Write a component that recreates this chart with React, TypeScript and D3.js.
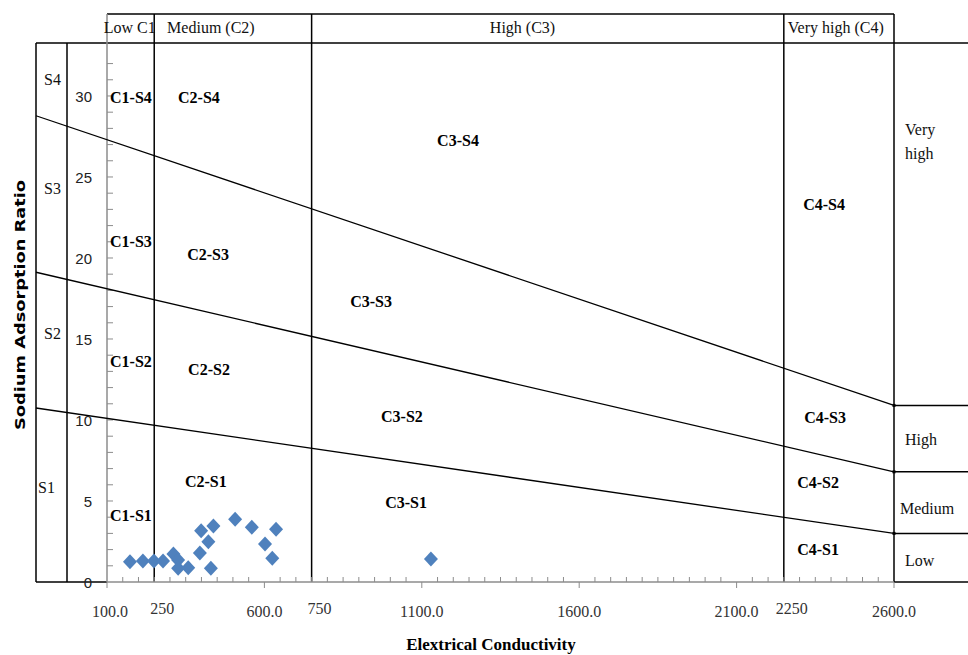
import React from 'react';
import * as d3 from 'd3';

// USSL salinity diagram — EC vs SAR
const ecValues = [173, 214, 249, 278, 311, 326, 326, 358, 395, 399, 422, 438, 430, 507, 560, 602, 625, 637, 1129];
const sarValues = [1.25, 1.3, 1.3, 1.3, 1.73, 1.36, 0.85, 0.88, 1.79, 3.17, 2.49, 3.46, 0.85, 3.87, 3.38, 2.35, 1.46, 3.25, 1.42];

const ecBounds = [250, 750, 2250, 2600];
const headerLabels = ['Low C1', 'Medium (C2)', 'High (C3)', 'Very high (C4)'];
const headerCenters = [172, 430, 1420, 2415];

// SAR boundary lines: value at EC=100 and at EC=2600 (S1/S2, S2/S3, S3/S4)
const sarLineStart = [10.1, 18.1, 27.3];
const sarLineEnd = [3.0, 6.8, 10.9];

const classNames = ['C1-S4', 'C2-S4', 'C3-S4', 'C4-S4', 'C1-S3', 'C2-S3', 'C3-S3', 'C4-S3', 'C1-S2', 'C2-S2', 'C3-S2', 'C4-S2', 'C1-S1', 'C2-S1', 'C3-S1', 'C4-S1'];
const classEc = [176, 392, 1215, 2378, 176, 421, 939, 2381, 176, 424, 1037, 2359, 176, 414, 1050, 2359];
const classSar = [29.9, 29.9, 27.2, 23.3, 21.0, 20.2, 17.3, 10.1, 13.6, 13.1, 10.2, 6.1, 4.1, 6.2, 4.9, 2.0];

const sLabels = ['S4', 'S3', 'S2', 'S1'];
const sLabelSar = [30.7, 23.95, 15.0, 5.5];

const ecTickLabels = [100, 600, 1100, 1600, 2100, 2600];
const ecExtraLabels = ['250', '750', '2250'];
const yTickLabels = [0, 5, 10, 15, 20, 25, 30];

export default function App() {
  const width = 968;
  const height = 655;
  const left = 36, sCol = 67, headTop = 14, headBot = 43, right = 968;

  const x = d3.scaleLinear().domain([100, 2600]).range([107, 894]);
  const y = d3.scaleLinear().domain([0, 33.27]).range([582, headBot]);
  const x0 = x(100), x1 = x(2600), y0 = y(0);

  const ecLeft = x.invert(left);
  const sarAt = (i: number, ec: number) =>
    sarLineStart[i] + (sarLineEnd[i] - sarLineStart[i]) * (ec - 100) / 2500;

  const minorX = d3.range(150, 2600, 50).filter(v => (v - 100) % 500 !== 0);
  const minorY = d3.range(1, 33);

  const diamond = 'M0,-7.5L7,0L0,7.5L-7,0Z';
  const serif = '"Liberation Serif", "Times New Roman", serif';
  const sans = '"Liberation Sans", Arial, sans-serif';
  const gray = '#8c8c8c';

  // line end heights on the right edge: [S1/S2, S2/S3, S3/S4]
  const endY = sarLineEnd.map(v => y(v));

  return (
    <svg width={width} height={height} style={{ position: 'absolute', left: 0, top: 0, background: '#fff' }}>
      {/* frame */}
      <g stroke="#000" strokeWidth={1.5} fill="none">
        <line x1={left} x2={left} y1={headBot} y2={y0} />
        <line x1={sCol} x2={sCol} y1={headBot} y2={y0} />
        <line x1={left} x2={x0} y1={y0} y2={y0} />
        <line x1={left} x2={right} y1={headBot} y2={headBot} />
        <line x1={x0} x2={x1} y1={headTop} y2={headTop} />
        {ecBounds.map(v => (
          <line key={v} x1={x(v)} x2={x(v)} y1={headTop} y2={y0} />
        ))}
        <line x1={x1} x2={right} y1={y0} y2={y0} />
        {endY.map((v, i) => (
          <line key={i} x1={x1} x2={right} y1={v} y2={v} />
        ))}
      </g>

      {/* axes */}
      <g stroke={gray} strokeWidth={1.5}>
        <line x1={x0} x2={x0} y1={headTop} y2={y0} />
        <line x1={x0} x2={x1} y1={y0} y2={y0} />
        {minorY.map(v => (
          <line key={v} x1={x0} x2={x0 + 6} y1={y(v)} y2={y(v)} strokeWidth={1} />
        ))}
        {minorX.map(v => (
          <line key={v} x1={x(v)} x2={x(v)} y1={y0} y2={y0 - 5} strokeWidth={1} />
        ))}
        {ecTickLabels.map(v => (
          <line key={v} x1={x(v)} x2={x(v)} y1={y0} y2={y0 + 6} strokeWidth={1} />
        ))}
      </g>

      {/* SAR boundary lines */}
      <g stroke="#000" strokeWidth={1.3}>
        {sarLineStart.map((_, i) => (
          <line key={i} x1={x(ecLeft)} y1={y(sarAt(i, ecLeft))} x2={x(2600)} y2={y(sarAt(i, 2600))} />
        ))}
      </g>
      {endY.map((v, i) => (
        <rect key={i} x={x1 - 1.5} y={v - 1.5} width={3} height={3} fill="#000" />
      ))}

      {/* points */}
      <g fill="#4f81bd">
        {ecValues.map((v, i) => (
          <path key={i} d={diamond} transform={`translate(${x(v)},${y(sarValues[i])})`} />
        ))}
      </g>

      {/* header labels */}
      <g fontFamily={serif} fontSize={16} fill="#111" textAnchor="middle">
        {headerLabels.map((t, i) => (
          <text key={t} x={x(headerCenters[i])} y={33}>{t}</text>
        ))}
      </g>

      {/* class labels */}
      <g fontFamily={serif} fontSize={16} fontWeight="bold" fill="#000" textAnchor="middle">
        {classNames.map((t, i) => (
          <text key={t} x={x(classEc[i])} y={y(classSar[i]) + 5}>{t}</text>
        ))}
      </g>

      {/* S labels */}
      <g fontFamily={serif} fontSize={16} fill="#111">
        {sLabels.map((t, i) => (
          <text key={t} x={i === 3 ? 38 : 44} y={y(sLabelSar[i])}>{t}</text>
        ))}
      </g>

      {/* right hazard labels */}
      <g fontFamily={serif} fontSize={16} fill="#111">
        <text x={905} y={y(27.9) + 5}>Very</text>
        <text x={905} y={y(26.4) + 5}>high</text>
        <text x={905} y={(endY[2] + endY[1]) / 2 + 6}>High</text>
        <text x={900} y={(endY[1] + endY[0]) / 2 + 11}>Medium</text>
        <text x={905} y={(endY[0] + y0) / 2 + 8}>Low</text>
      </g>

      {/* y tick labels */}
      <g fontFamily={sans} fontSize={15} fill="#222" textAnchor="end">
        {yTickLabels.map(v => (
          <text key={v} x={92} y={y(v) + 6}>{v}</text>
        ))}
      </g>

      {/* x tick labels */}
      <g fontFamily={serif} fontSize={16} fill="#333" textAnchor="middle">
        {ecTickLabels.map(v => (
          <text key={v} x={x(v) + (v === 100 ? 3 : 0)} y={617}>{v.toFixed(1)}</text>
        ))}
        {ecExtraLabels.map(t => (
          <text key={t} x={x(+t) + 8} y={614}>{t}</text>
        ))}
      </g>

      {/* axis titles */}
      <text transform="translate(25,305) rotate(-90)" textAnchor="middle" fontFamily='"DejaVu Sans", sans-serif'
        fontSize={14} fontWeight="bold" fill="#000" textLength={250} lengthAdjust="spacingAndGlyphs">
        Sodium Adsorption Ratio
      </text>
      <text x={491} y={650} textAnchor="middle" fontFamily={serif} fontSize={17} fontWeight="bold" fill="#000">
        Elextrical Conductivity
      </text>
    </svg>
  );
}
